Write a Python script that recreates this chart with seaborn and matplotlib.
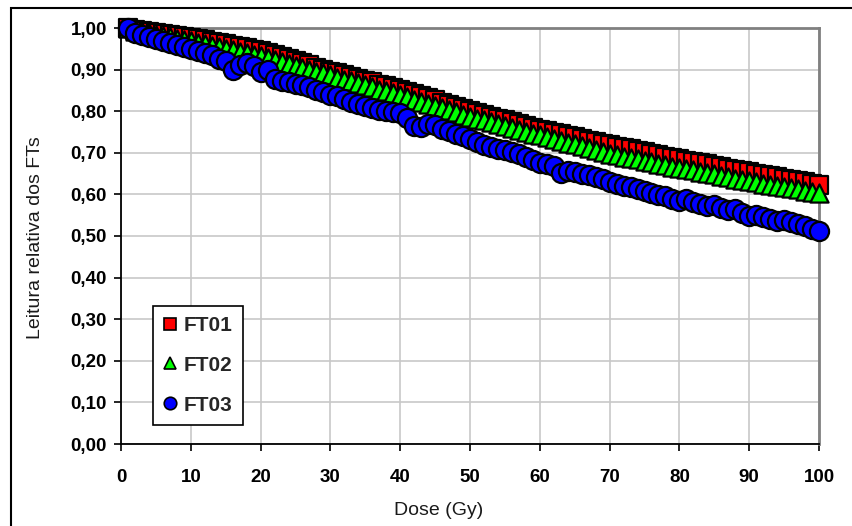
import numpy as np
import pandas as pd
import seaborn as sns
import matplotlib.pyplot as plt
from matplotlib.lines import Line2D
from matplotlib.patches import Rectangle
from matplotlib.ticker import FuncFormatter, MultipleLocator

# dose in Gy, one reading per Gy
dose = list(range(1, 101))

ft01 = [1.000, 0.995, 0.993, 0.990, 0.988, 0.986, 0.983, 0.981, 0.978, 0.976,
        0.973, 0.970, 0.967, 0.964, 0.961, 0.957, 0.954, 0.951, 0.948, 0.945,
        0.940, 0.935, 0.930, 0.925, 0.920, 0.915, 0.910, 0.905, 0.900, 0.895,
        0.891, 0.886, 0.882, 0.877, 0.873, 0.869, 0.864, 0.860, 0.855, 0.851,
        0.846, 0.841, 0.836, 0.831, 0.826, 0.820, 0.815, 0.810, 0.805, 0.800,
        0.796, 0.791, 0.787, 0.782, 0.778, 0.774, 0.769, 0.765, 0.760, 0.756,
        0.752, 0.748, 0.745, 0.741, 0.737, 0.733, 0.729, 0.726, 0.722, 0.718,
        0.715, 0.711, 0.708, 0.704, 0.701, 0.698, 0.694, 0.691, 0.687, 0.684,
        0.681, 0.678, 0.675, 0.672, 0.669, 0.665, 0.662, 0.659, 0.656, 0.653,
        0.650, 0.647, 0.644, 0.641, 0.638, 0.635, 0.632, 0.629, 0.626, 0.623]

ft02 = [1.000, 0.993, 0.990, 0.987, 0.984, 0.981, 0.978, 0.974, 0.971, 0.968,
        0.964, 0.961, 0.957, 0.954, 0.950, 0.946, 0.943, 0.939, 0.936, 0.932,
        0.927, 0.923, 0.918, 0.914, 0.909, 0.904, 0.900, 0.895, 0.891, 0.886,
        0.881, 0.876, 0.872, 0.867, 0.862, 0.857, 0.852, 0.848, 0.843, 0.838,
        0.833, 0.828, 0.823, 0.818, 0.813, 0.807, 0.802, 0.797, 0.792, 0.787,
        0.782, 0.778, 0.773, 0.769, 0.764, 0.760, 0.755, 0.751, 0.746, 0.742,
        0.738, 0.733, 0.729, 0.724, 0.720, 0.716, 0.711, 0.707, 0.702, 0.698,
        0.695, 0.691, 0.688, 0.684, 0.681, 0.678, 0.674, 0.671, 0.667, 0.664,
        0.661, 0.658, 0.654, 0.651, 0.648, 0.645, 0.642, 0.638, 0.635, 0.632,
        0.629, 0.626, 0.623, 0.620, 0.618, 0.615, 0.612, 0.609, 0.606, 0.603]

ft03 = [1.000, 0.989, 0.984, 0.978, 0.973, 0.968, 0.963, 0.958, 0.954, 0.949,
        0.945, 0.940, 0.934, 0.926, 0.920, 0.899, 0.912, 0.916, 0.909, 0.894,
        0.898, 0.878, 0.872, 0.869, 0.866, 0.862, 0.857, 0.850, 0.845, 0.840,
        0.836, 0.830, 0.823, 0.817, 0.812, 0.808, 0.804, 0.801, 0.798, 0.795,
        0.784, 0.764, 0.762, 0.770, 0.766, 0.758, 0.752, 0.746, 0.740, 0.733,
        0.725, 0.718, 0.713, 0.708, 0.706, 0.702, 0.697, 0.690, 0.682, 0.676,
        0.672, 0.668, 0.652, 0.656, 0.654, 0.649, 0.646, 0.643, 0.637, 0.630,
        0.626, 0.621, 0.617, 0.614, 0.608, 0.603, 0.599, 0.596, 0.590, 0.585,
        0.589, 0.582, 0.576, 0.571, 0.574, 0.568, 0.562, 0.564, 0.556, 0.549,
        0.550, 0.545, 0.541, 0.537, 0.538, 0.533, 0.528, 0.523, 0.518, 0.512]

series = ["FT01", "FT02", "FT03"]
colors = {"FT01": "#ff0000", "FT02": "#00ff00", "FT03": "#0000ff"}
markers = {"FT01": "s", "FT02": "^", "FT03": "o"}

df = pd.DataFrame({
    "dose": dose * 3,
    "leitura": ft01 + ft02 + ft03,
    "ft": ["FT01"] * 100 + ["FT02"] * 100 + ["FT03"] * 100,
})

sns.set_theme(style="whitegrid")
plt.rcParams["font.family"] = ["Liberation Sans", "DejaVu Sans"]

fig, ax = plt.subplots(figsize=(8.52, 5.26), dpi=100)
fig.subplots_adjust(left=121 / 852, right=819 / 852, top=1 - 28 / 526, bottom=1 - 444 / 526)

sizes = {"FT01": 150, "FT02": 170, "FT03": 190}
for name in series:
    sub = df[df["ft"] == name]
    sns.scatterplot(data=sub, x="dose", y="leitura", color=colors[name],
                    marker=markers[name], s=sizes[name], edgecolor="black",
                    linewidth=1.6, ax=ax, legend=False, clip_on=False, zorder=3)

ax.set_xlim(0, 100)
ax.set_ylim(0, 1)
ax.xaxis.set_major_locator(MultipleLocator(10))
ax.yaxis.set_major_locator(MultipleLocator(0.1))
ax.yaxis.set_major_formatter(FuncFormatter(lambda v, p: f"{v:.2f}".replace(".", ",")))
ax.set_facecolor("white")
ax.grid(True, color="#c8c8c8", linewidth=1.2)
ax.set_axisbelow(True)

for side in ["top", "right"]:
    ax.spines[side].set_color("#808080")
    ax.spines[side].set_linewidth(2)
for side in ["left", "bottom"]:
    ax.spines[side].set_color("black")
    ax.spines[side].set_linewidth(1.3)

ax.tick_params(axis="both", direction="out", length=5, width=1.2, color="black",
               labelsize=13.5, labelcolor="black", left=True, bottom=True)
ax.tick_params(axis="y", pad=5)
ax.tick_params(axis="x", pad=13)
for lab in ax.get_xticklabels() + ax.get_yticklabels():
    lab.set_fontweight("bold")

ax.set_xlabel("Dose (Gy)", fontsize=14, color="#1a1a1a")
ax.set_ylabel("Leitura relativa dos FTs", fontsize=14, color="#1a1a1a")
ax.xaxis.set_label_coords((439 - 121) / 698, (444 - 502) / 416)
ax.yaxis.set_label_coords((44 - 121) / 698, 0.495)

handles = [Line2D([], [], linestyle="none", marker=markers[n], markersize=9,
                  markerfacecolor=colors[n], markeredgecolor="black", markeredgewidth=1.2,
                  label=n) for n in series]
leg = ax.legend(handles=handles, loc="lower left", bbox_to_anchor=(32 / 698, 19 / 416),
                frameon=True, fancybox=False, framealpha=1, edgecolor="black",
                prop={"weight": "bold", "size": 15}, handlelength=0.6,
                handletextpad=0.35, labelspacing=1.0, borderpad=0.5, borderaxespad=0)
leg.get_frame().set_linewidth(1.2)

fig.add_artist(Rectangle((11 / 852, -0.5), 2, 0.5 + 1 - 8 / 526, transform=fig.transFigure,
                         fill=False, edgecolor="black", linewidth=1.5))

plt.savefig("out.png", dpi=100, facecolor="white")
